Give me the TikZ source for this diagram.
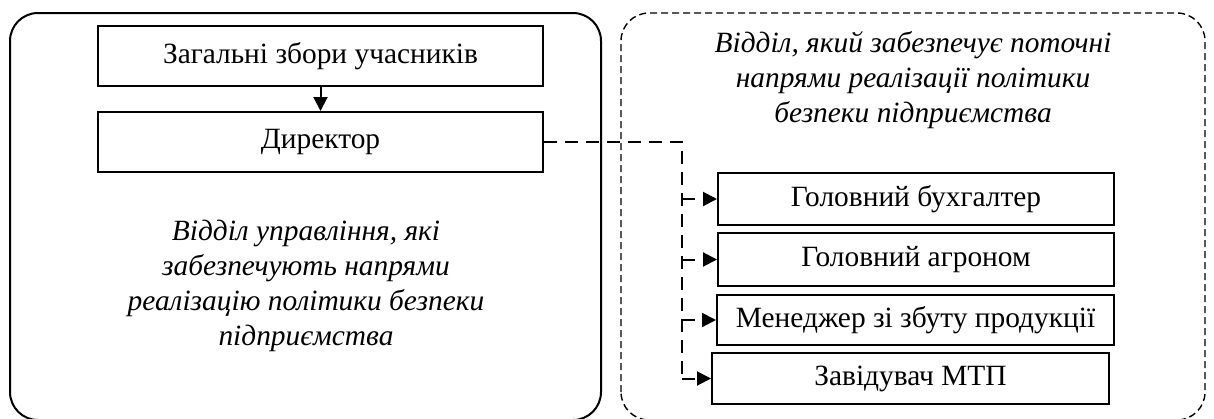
\documentclass[tikz,border=0pt]{standalone}
\usepackage{fontspec}
\setmainfont{Liberation Serif}
\usetikzlibrary{arrows.meta, positioning}

\begin{document}
\begin{tikzpicture}[x=0.5pt,y=-0.5pt, font=\fontsize{14.7}{17.5}\selectfont,
  box/.style={draw, line width=1pt, inner sep=0pt},
  link/.style={line width=1pt, dash pattern=on 6.5pt off 4pt},
  tip/.style={-{Triangle[length=7pt,width=7pt]}},
  note/.style={align=center, font=\fontsize{14.7}{17.5}\selectfont\itshape}]
\useasboundingbox (0,0) rectangle (1214,418);
% two departments
\draw[line width=1pt, rounded corners=14pt] (10,420) rectangle (601,13);
\draw[line width=0.7pt, dash pattern=on 3.5pt off 2pt, rounded corners=14pt] (621,420) rectangle (1205,13);

\node[box, minimum width=222.5pt, minimum height=30pt] (zbory) at (320.5,56) {Загальні збори учасників};
\node[box, minimum width=222.5pt, minimum height=30pt] (dyr) at (320.5,142) {Директор};
\node[note] (lnote) at (306,286) {Відділ управління, які\\забезпечують напрями\\реалізацію політики безпеки\\підприємства};
\node[note] (rnote) at (913,80) {Відділ, який забезпечує поточні\\напрями реалізації політики\\безпеки підприємства};

\node[box, minimum width=198pt, minimum height=26pt] (buh) at (916,199) {Головний бухгалтер};
\node[box, minimum width=198pt, minimum height=26.5pt] (agr) at (916,259.5) {Головний агроном};
\node[box, minimum width=198.5pt, minimum height=25pt] (men) at (915.5,320) {Менеджер зі збуту продукції};
\node[box, minimum width=198.5pt, minimum height=25.5pt] (mtp) at (910.5,378.5) {Завідувач МТП};

\draw[tip, line width=1pt] (zbory) -- (dyr);
\coordinate (trunk) at (682,0);
\draw[link] (dyr.east) -| (trunk |- mtp.west);
\foreach \b in {buh,agr,men,mtp}
  \draw[link, tip] (trunk |- \b.west) -- (\b.west);
\end{tikzpicture}
\end{document}
